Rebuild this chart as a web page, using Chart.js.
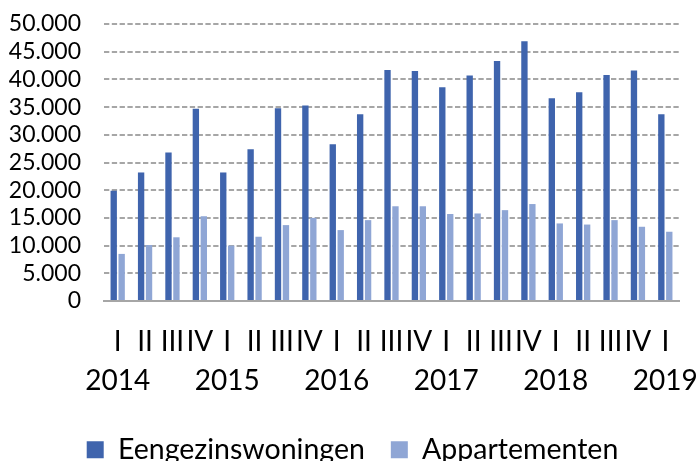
<!DOCTYPE html>
<html>
<head>
<meta charset="utf-8">
<script src="https://cdn.jsdelivr.net/npm/chart.js@4/dist/chart.umd.min.js"></script>
<style>
html,body{margin:0;padding:0;background:#fff;overflow:hidden;}
#wrap{width:698px;height:461px;}
</style>
</head>
<body>
<div id="wrap"><canvas id="c" width="698" height="461"></canvas></div>
<script>
const quarters = ["I","II","III","IV","I","II","III","IV","I","II","III","IV","I","II","III","IV","I","II","III","IV","I"];
const years = ["2014","","","","2015","","","","2016","","","","2017","","","","2018","","","","2019"];
const eengezinswoningen = [19900,23200,26800,34700,23200,27400,34800,35300,28300,33700,41700,41500,38600,40700,43300,46900,36600,37700,40800,41600,33700];
const appartementen = [8500,10100,11500,15300,10000,11600,13700,15000,12800,14600,17100,17100,15700,15800,16400,17500,14000,13800,14600,13400,12500];
const yTicks = [0,5000,10000,15000,20000,25000,30000,35000,40000,45000,50000];

const labels = quarters.map((q,i)=>[q, years[i]]);
const FONT = "Lato";

const legendShift = {
  id:'legendShift',
  beforeDraw(chart){ if (chart.legend) { chart.legend.left = 26; } }
};

new Chart(document.getElementById('c'), {
  type: 'bar',
  data: {
    labels: labels,
    datasets: [
      {label:'Eengezinswoningen', data:eengezinswoningen, backgroundColor:'#3F64AD', borderWidth:0, categoryPercentage:0.58, barPercentage:0.8},
      {label:'Appartementen', data:appartementen, backgroundColor:'#8FA6D5', borderWidth:0, categoryPercentage:0.58, barPercentage:0.8}
    ]
  },
  plugins:[legendShift],
  options: {
    responsive:false,
    animation:false,
    devicePixelRatio:1,
    layout:{padding:{top:24,right:19,left:0,bottom:-13}},
    plugins:{
      legend:{
        position:'bottom',
        labels:{font:{family:FONT,size:28.5,lineHeight:1},color:'#000',boxWidth:17,boxHeight:17,padding:26}
      },
      tooltip:{enabled:false}
    },
    scales:{
      x:{
        grid:{display:false,drawTicks:false},
        border:{display:true,color:'#A6A6A6',width:2},
        ticks:{font:{family:FONT,size:28,lineHeight:1.39},color:'#000',padding:22,maxRotation:0,minRotation:0,autoSkip:false},
        afterFit(s){ s.height = 108.5; s.paddingLeft = 0; s.paddingRight = 0; }
      },
      y:{
        min:0,max:50000,
        afterBuildTicks(s){ s.ticks = yTicks.map(v=>({value:v})); },
        grid:{color:'#A6A6A6',lineWidth:2,drawTicks:false},
        border:{display:false,dash:[5.3,2.5]},
        ticks:{font:{family:FONT,size:23},color:'#000',padding:23,autoSkip:false,
          callback:(v)=>v.toLocaleString('nl-NL')},
        afterFit(s){ s.width = 104; s.paddingTop = 0; s.paddingBottom = 0; }
      }
    }
  }
});
</script>
</body>
</html>
